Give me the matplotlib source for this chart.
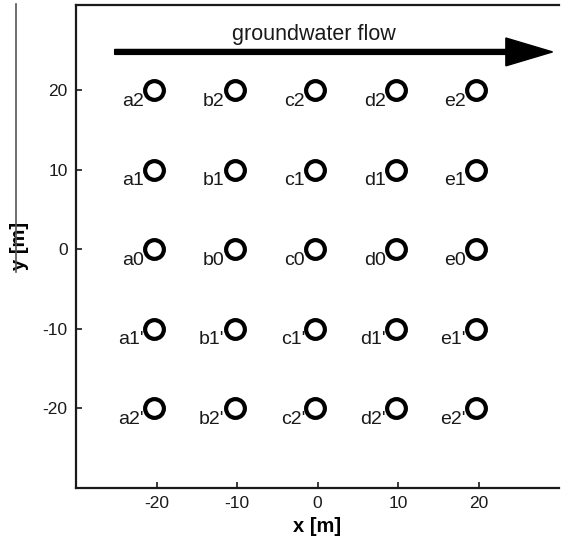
import matplotlib
matplotlib.use("Agg")
import matplotlib.pyplot as plt
from matplotlib.patches import FancyArrow
from matplotlib.lines import Line2D

plt.rcParams['font.family'] = ['Liberation Sans', 'DejaVu Sans']
plt.rcParams['axes.unicode_minus'] = False

columns = ['a', 'b', 'c', 'd', 'e']
col_x = [-20, -10, 0, 10, 20]
rows = ['2', '1', '0', "1'", "2'"]
row_y = [20, 10, 0, -10, -20]
xticks = [-20, -10, 0, 10, 20]
yticks = [-20, -10, 0, 10, 20]

fig = plt.figure(figsize=(5.61, 5.43), dpi=100)
ax = fig.add_axes([76/561, 1-487.7/543, (559-76)/561, (487.7-5)/543])
ax.set_xlim(-30, 30)
ax.set_ylim(-30, 30.7)

for cname, x in zip(columns, col_x):
    for rname, y in zip(rows, row_y):
        ax.plot([x - 0.3], [y], marker='o', markersize=13.5, markerfacecolor='white',
                markeredgecolor='black', markeredgewidth=3.0, linestyle='none', zorder=3)
        ax.text(x - 1.55, y - 1.4, cname + rname, ha='right', va='center',
                fontsize=14, color='#1a1a1a', zorder=2)

arrow = FancyArrow(-25.2, 24.8, 54.4, 0, width=0.62, head_width=3.5, head_length=5.8,
                   length_includes_head=True, color='black', zorder=4)
ax.add_patch(arrow)
ax.text(-0.4, 27.0, 'groundwater flow', ha='center', va='center', fontsize=15.5, color='#1a1a1a')

ax.set_xticks(xticks)
ax.set_yticks(yticks)
ax.tick_params(direction='in', length=4, width=1.2, labelsize=12.5, top=False, right=False,
               colors='#1a1a1a', pad=6)
for s in ['left', 'bottom', 'top']:
    ax.spines[s].set_linewidth(1.6)
    ax.spines[s].set_color('#1a1a1a')
ax.spines['right'].set_visible(False)

ax.set_xlabel('x [m]', fontsize=14.5, fontweight='bold', labelpad=4)
ax.set_ylabel('y [m]', fontsize=14.5, fontweight='bold', labelpad=10)

fig.add_artist(Line2D([16/561, 16/561], [1-4/543, 1-272/543], color='#555555', lw=1.2))

fig.savefig('out.png', dpi=100)
